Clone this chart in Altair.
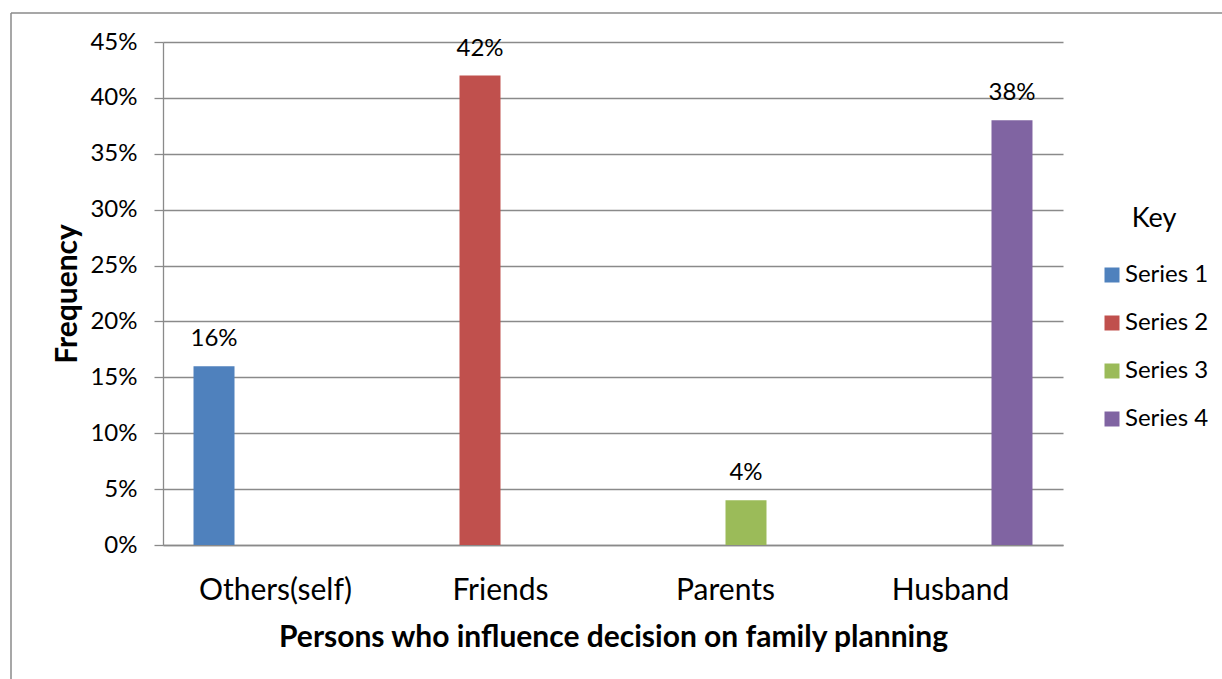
import altair as alt
import pandas as pd

categories = ["Others(self)", "Friends", "Parents", "Husband"]
series = ["Series 1", "Series 2", "Series 3", "Series 4"]
values = [0.16, 0.42, 0.04, 0.38]
colors = ["#4F81BD", "#C0504D", "#9BBB59", "#8064A2"]
y_ticks = [0.0, 0.05, 0.10, 0.15, 0.20, 0.25, 0.30, 0.35, 0.40, 0.45]

df = pd.DataFrame({"category": categories, "series": series, "value": values})

FONT = "Lato"
GRAY = "#8a8a8a"

x_enc = alt.X(
    "category:N",
    sort=categories,
    scale=alt.Scale(paddingInner=0.2711, paddingOuter=0.1356),
    axis=alt.Axis(
        title="Persons who influence decision on family planning",
        labelAngle=0, ticks=False, domainColor=GRAY, domainWidth=1.3,
        labelFontSize=30, labelPadding=30, labelColor="black", labelFont=FONT,
        titleFontSize=30, titleFontWeight="bold", titlePadding=17,
        titleColor="black", titleFont=FONT,
    ),
)
y_enc = alt.Y(
    "value:Q",
    scale=alt.Scale(domain=[0, 0.45], nice=False),
    axis=alt.Axis(
        values=y_ticks, format=".0%", title="Frequency",
        tickSize=9, tickColor=GRAY, tickWidth=1.3, domainColor=GRAY, domainWidth=1.3,
        gridColor=GRAY, gridWidth=1.3,
        labelFontSize=24, labelPadding=17, labelColor="black", labelFont=FONT,
        titleFontSize=30, titleFontWeight="bold", titlePadding=7,
        titleColor="black", titleFont=FONT,
    ),
)
xoff = alt.XOffset("series:N", scale=alt.Scale(domain=series, paddingInner=0, paddingOuter=0))
color = alt.Color(
    "series:N",
    scale=alt.Scale(domain=series, range=colors),
    legend=alt.Legend(
        title="Key", orient="none", legendX=937, legendY=164,
        symbolType="square", symbolSize=225, symbolStrokeWidth=0,
        labelFontSize=24, labelFont=FONT, labelColor="black", labelOffset=1,
        titleFontSize=27, titleFontWeight="normal", titleFont=FONT, titleColor="black",
        titleAnchor="middle", titlePadding=30, rowPadding=24, padding=0,
    ),
)

base = alt.Chart(df)
bars = base.mark_bar().encode(x=x_enc, y=y_enc, xOffset=xoff, color=color)
labels = base.mark_text(dy=-27, baseline="middle", fontSize=24, font=FONT, color="black").encode(
    x=alt.X("category:N", sort=categories),
    xOffset=alt.XOffset("series:N"),
    y=alt.Y("value:Q"),
    text=alt.Text("value:Q", format=".0%"),
)

frame = pd.DataFrame({"k": [0]})
top_border = alt.Chart(frame).mark_rule(color=GRAY, strokeWidth=1.5).encode(
    x=alt.value(-152), x2=alt.value(1070), y=alt.value(-29)
)
left_border = alt.Chart(frame).mark_rule(color=GRAY, strokeWidth=1.5).encode(
    x=alt.value(-152), y=alt.value(-29), y2=alt.value(650)
)

chart = (
    alt.layer(bars, labels, top_border, left_border)
    .properties(
        width=900, height=503,
        autosize=alt.AutoSizeParams(type="none"),
        padding={"left": 163, "top": 42, "right": 159, "bottom": 134},
        background="white",
    )
    .configure_view(stroke=None)
)

chart.save("out.html", embed_options={"renderer": "svg", "actions": False})
